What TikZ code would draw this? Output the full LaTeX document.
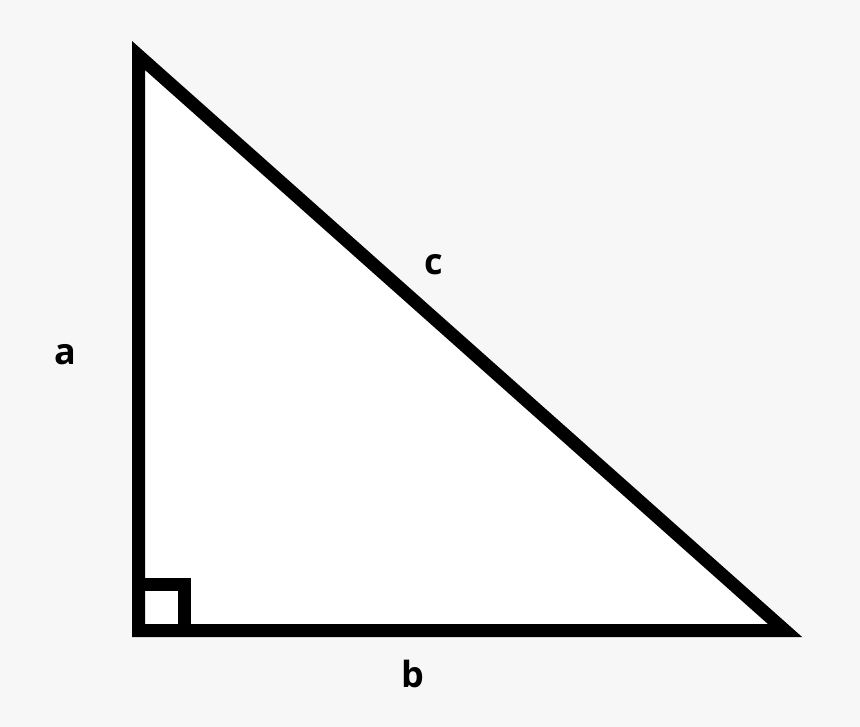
\documentclass[tikz,border=0pt]{standalone}
\usepackage{xcolor}
\usepackage{fontspec}
\setmainfont{Open Sans}
\usepackage{tikz}
\definecolor{bggray}{HTML}{F7F7F7}
\tikzstyle{side} = [draw, line width=13pt, line join=miter, miter limit=20]
\tikzstyle{sidelabel} = [inner sep=0pt, anchor=base, font=\fontsize{36}{40}\selectfont\bfseries]

\begin{document}
\begin{tikzpicture}[x=1pt, y=-1pt]
    % Background
    \fill [bggray] (0,0) rectangle (860,727);
    \useasboundingbox (0,0) rectangle (860,727);
    % Place vertices
    \coordinate (top) at (138.5,55.5);
    \coordinate (corner) at (138.5,630.5);
    \coordinate (right) at (785,630.5);
    % Draw triangle
    \path [side, fill=white] (top) -- (corner) -- (right) -- cycle;
    \path [side] (138.5,584.5) -| (184.5,630.5);
    % Place labels
    \node [sidelabel] (a) at (65,365) {a};
    \node [sidelabel] (b) at (413,687) {b};
    \node [sidelabel] (c) at (433.5,275) {c};
\end{tikzpicture}
\end{document}
